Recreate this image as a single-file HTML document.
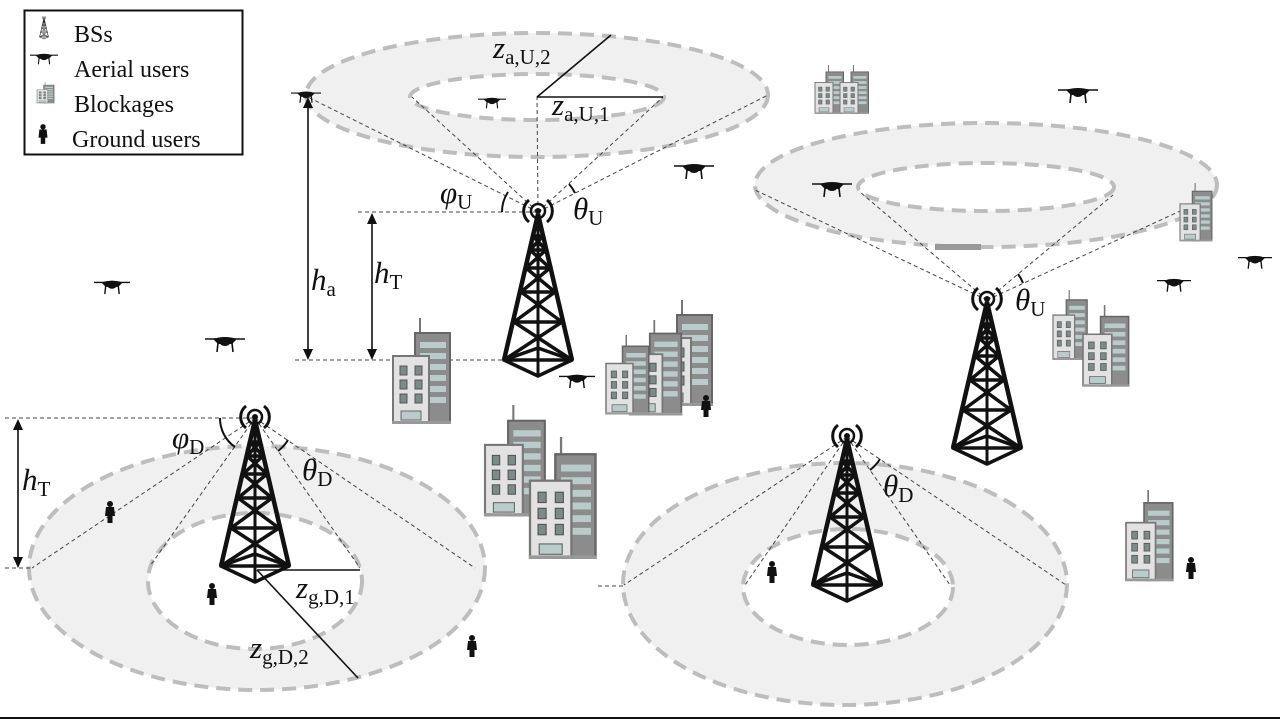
<!DOCTYPE html>
<html><head><meta charset="utf-8"><style>
html,body{margin:0;padding:0;background:#fff;}
svg{display:block;}
.v{font-family:"Liberation Serif",serif;font-style:italic;font-size:31px;fill:#111;}
.s{font-family:"Liberation Serif",serif;font-style:normal;font-size:21px;}
.lg{font-family:"Liberation Serif",serif;font-size:24px;fill:#111;}
</style></head><body>
<svg width="1280" height="720" viewBox="0 0 1280 720" xmlns="http://www.w3.org/2000/svg">
<defs>
<g id="tower" fill="none" stroke="#111" stroke-width="4.5" stroke-linejoin="round">
  <line x1="0" y1="0" x2="-34" y2="146"/>
  <line x1="0" y1="0" x2="34" y2="146"/>
  <line x1="0" y1="0" x2="0" y2="162" stroke-width="3"/>
  <polyline points="-5,22 5,22 -8,36 8,36 -5,22" stroke-width="3.5"/>
  <polyline points="-8,36 12,54 -12,54 8,36" stroke-width="3.5"/>
  <polyline points="-12,54 17,78 -17,78 12,54" stroke-width="3.5"/>
  <polyline points="-17,78 24,108 -24,108 17,78" stroke-width="3.5"/>
  <polyline points="-24,108 34,146 -34,146 24,108" stroke-width="3.5"/>
  <polygon points="-34,146 0,162 34,146 0,134" stroke-width="3.5"/>
  <circle cx="0" cy="-3" r="3" fill="#111" stroke="none"/>
  <circle cx="0" cy="-3" r="7" stroke-width="2.5"/>
  <path d="M -9 -14 A 14 14 0 0 0 -9 8" stroke-width="3"/>
  <path d="M 9 -14 A 14 14 0 0 1 9 8" stroke-width="3"/>
</g>
<g id="drone" fill="#111" stroke="#111">
  <line x1="-20" y1="-4" x2="20" y2="-4" stroke-width="1.5"/>
  <path d="M-12 -4 Q0 -8 12 -4 L7 1 L-7 1 Z" stroke="none"/>
  <ellipse cx="0" cy="0" rx="5" ry="3" stroke="none"/>
  <line x1="-7" y1="0" x2="-8" y2="9" stroke-width="1.6"/>
  <line x1="7" y1="0" x2="8" y2="9" stroke-width="1.6"/>
</g>
<g id="person" fill="#111">
  <circle cx="0" cy="-8" r="3"/>
  <path d="M-4 -5 L4 -5 L5 4 L2.5 4 L2.5 11 L-2.5 11 L-2.5 4 L-5 4 Z"/>
</g>
<g id="bld">
  <line x1="27" y1="0" x2="27" y2="16" stroke="#777" stroke-width="2"/>
  <rect x="22" y="15" width="35" height="90" fill="#8c8c8c" stroke="#666" stroke-width="2"/>
  <rect x="27" y="24" width="26" height="6" fill="#b9cccb"/>
  <rect x="27" y="35" width="26" height="6" fill="#b9cccb"/>
  <rect x="27" y="46" width="26" height="6" fill="#b9cccb"/>
  <rect x="27" y="57" width="26" height="6" fill="#b9cccb"/>
  <rect x="27" y="68" width="26" height="6" fill="#b9cccb"/>
  <rect x="27" y="79" width="26" height="6" fill="#b9cccb"/>
  <rect x="0" y="38" width="36" height="67" fill="#e2e2e2" stroke="#777" stroke-width="2"/>
  <g fill="#7d8a8a" stroke="#555" stroke-width="1">
    <rect x="7" y="48" width="7" height="9"/><rect x="22" y="48" width="7" height="9"/>
    <rect x="7" y="62" width="7" height="9"/><rect x="22" y="62" width="7" height="9"/>
    <rect x="7" y="76" width="7" height="9"/><rect x="22" y="76" width="7" height="9"/>
  </g>
  <rect x="8" y="93" width="20" height="9" fill="#b9cccb" stroke="#666" stroke-width="1"/>
  <rect x="-1" y="103" width="59" height="3" fill="#999"/>
</g>
</defs>

<ellipse cx="537" cy="95" rx="231" ry="62" fill="#f0f0f0" stroke="#bdbdbd" stroke-width="4" stroke-dasharray="14 8"/>
<ellipse cx="537" cy="97" rx="127" ry="23" fill="#fff" stroke="#bdbdbd" stroke-width="4" stroke-dasharray="14 8"/>
<ellipse cx="986" cy="185" rx="231" ry="62" fill="#f0f0f0" stroke="#bdbdbd" stroke-width="4" stroke-dasharray="14 8"/>
<ellipse cx="986" cy="187" rx="128" ry="24" fill="#fff" stroke="#bdbdbd" stroke-width="4" stroke-dasharray="14 8"/>
<ellipse cx="257" cy="568" rx="228" ry="122" fill="#f0f0f0" stroke="#bdbdbd" stroke-width="4" stroke-dasharray="14 8"/>
<ellipse cx="255" cy="581" rx="107" ry="68" fill="#fff" stroke="#bdbdbd" stroke-width="4" stroke-dasharray="14 8"/>
<ellipse cx="845" cy="584" rx="222" ry="121" fill="#f0f0f0" stroke="#bdbdbd" stroke-width="4" stroke-dasharray="14 8"/>
<ellipse cx="848" cy="587" rx="105" ry="58" fill="#fff" stroke="#bdbdbd" stroke-width="4" stroke-dasharray="14 8"/>

<g stroke="#444" stroke-width="1" stroke-dasharray="4 3" fill="none">
  <line x1="538" y1="212" x2="308" y2="97"/>
  <line x1="538" y1="212" x2="412" y2="97"/>
  <line x1="538" y1="212" x2="537" y2="97"/>
  <line x1="538" y1="212" x2="663" y2="97"/>
  <line x1="538" y1="212" x2="768" y2="95"/>
  <line x1="358" y1="212" x2="538" y2="212"/>
  <line x1="295" y1="360" x2="505" y2="360"/>
  <line x1="987" y1="300" x2="755" y2="190"/>
  <line x1="987" y1="300" x2="860" y2="192"/>
  <line x1="987" y1="300" x2="1113" y2="195"/>
  <line x1="987" y1="300" x2="1215" y2="195"/>
  <line x1="255" y1="418" x2="32" y2="568"/>
  <line x1="255" y1="418" x2="150" y2="566"/>
  <line x1="255" y1="418" x2="360" y2="568"/>
  <line x1="255" y1="418" x2="475" y2="568"/>
  <line x1="5" y1="418" x2="255" y2="418"/>
  <line x1="5" y1="568" x2="32" y2="568"/>
  <line x1="847" y1="437" x2="624" y2="585"/>
  <line x1="847" y1="437" x2="745" y2="585"/>
  <line x1="847" y1="437" x2="950" y2="585"/>
  <line x1="847" y1="437" x2="1066" y2="585"/>
  <line x1="598" y1="586" x2="624" y2="586"/>
</g>

<g stroke="#111" stroke-width="1.6">
  <line x1="537" y1="97" x2="611" y2="35"/>
  <line x1="537" y1="97" x2="663" y2="97"/>
  <line x1="257" y1="570" x2="360" y2="570"/>
  <line x1="257" y1="570" x2="358" y2="678"/>
  <line x1="308" y1="104" x2="308" y2="354"/>
  <line x1="372" y1="220" x2="372" y2="354"/>
  <line x1="18" y1="426" x2="18" y2="562"/>
</g>
<g fill="#111">
  <polygon points="308,97 303,108 313,108"/><polygon points="308,360 303,349 313,349"/>
  <polygon points="372,213 367,224 377,224"/><polygon points="372,360 367,349 377,349"/>
  <polygon points="18,419 13,430 23,430"/><polygon points="18,568 13,557 23,557"/>
</g>
<g stroke="#111" stroke-width="2" fill="none">
  <path d="M 502 212 A 36 36 0 0 1 508 192"/>
  <path d="M 569 184 A 42 42 0 0 1 575 193"/>
  <path d="M 220 418 A 35 35 0 0 0 235 447"/>
  <path d="M 288 440 A 40 40 0 0 1 278 451"/>
  <path d="M 880 459 A 40 40 0 0 1 870 470"/>
  <path d="M 1018 274 A 40 40 0 0 1 1023 283"/>
</g>

<use href="#bld" x="393" y="318"/>
<use href="#bld" transform="translate(655,300)"/>
<use href="#bld" transform="translate(630,320) scale(0.9)"/>
<use href="#bld" transform="translate(606,335) scale(0.75)"/>
<use href="#bld" transform="translate(485,405) scale(1.05)"/>
<use href="#bld" transform="translate(530,437) scale(1.15)"/>
<use href="#bld" transform="translate(815,65) scale(0.5,0.46)"/>
<use href="#bld" transform="translate(840,65) scale(0.5,0.46)"/>
<use href="#bld" transform="translate(1180,183) scale(0.56,0.55)"/>
<use href="#bld" transform="translate(1053,290) scale(0.6,0.66)"/>
<use href="#bld" transform="translate(1083,305) scale(0.8,0.77)"/>
<use href="#bld" transform="translate(1126,490) scale(0.82,0.86)"/>
<rect x="935" y="244" width="46" height="6" fill="#999"/>

<use href="#tower" x="538" y="214"/>
<use href="#tower" x="255" y="420"/>
<use href="#tower" x="847" y="439"/>
<use href="#tower" x="987" y="302"/>

<use href="#drone" transform="translate(306,96) scale(0.75)"/>
<use href="#drone" transform="translate(492,102) scale(0.7)"/>
<use href="#drone" transform="translate(694,170)"/>
<use href="#drone" transform="translate(1078,94)"/>
<use href="#drone" transform="translate(832,188)"/>
<use href="#drone" transform="translate(1174,284) scale(0.85)"/>
<use href="#drone" transform="translate(1255,261) scale(0.85)"/>
<use href="#drone" transform="translate(112,286) scale(0.9)"/>
<use href="#drone" transform="translate(225,343)"/>
<use href="#drone" transform="translate(577,380) scale(0.9)"/>

<use href="#person" x="110" y="512"/>
<use href="#person" x="212" y="594"/>
<use href="#person" x="472" y="646"/>
<use href="#person" x="706" y="406"/>
<use href="#person" x="772" y="572"/>
<use href="#person" x="1191" y="568"/>

<text class="v" x="493" y="58">z<tspan class="s" dy="6">a,U,2</tspan></text>
<text class="v" x="552" y="115">z<tspan class="s" dy="6">a,U,1</tspan></text>
<text class="v" x="440" y="203">φ<tspan class="s" dy="6">U</tspan></text>
<text class="v" x="573" y="219">θ<tspan class="s" dy="6">U</tspan></text>
<text class="v" x="311" y="290">h<tspan class="s" dy="6">a</tspan></text>
<text class="v" x="374" y="283">h<tspan class="s" dy="6">T</tspan></text>
<text class="v" x="1015" y="310">θ<tspan class="s" dy="6">U</tspan></text>
<text class="v" x="172" y="448">φ<tspan class="s" dy="6">D</tspan></text>
<text class="v" x="302" y="480">θ<tspan class="s" dy="6">D</tspan></text>
<text class="v" x="22" y="490">h<tspan class="s" dy="6">T</tspan></text>
<text class="v" x="883" y="496">θ<tspan class="s" dy="6">D</tspan></text>
<text class="v" x="296" y="598">z<tspan class="s" dy="6">g,D,1</tspan></text>
<text class="v" x="250" y="658">z<tspan class="s" dy="6">g,D,2</tspan></text>

<rect x="24.5" y="10.5" width="218" height="144" fill="#fff" stroke="#111" stroke-width="2"/>
<g transform="translate(44,18) scale(0.13)">
  <use href="#tower" x="0" y="0"/>
</g>
<use href="#drone" transform="translate(44,58) scale(0.7)"/>
<use href="#bld" transform="translate(37,82) scale(0.3,0.2)"/>
<use href="#person" transform="translate(43,134) scale(0.9)"/>
<text class="lg" x="74" y="42">BSs</text>
<text class="lg" x="74" y="77">Aerial users</text>
<text class="lg" x="74" y="112">Blockages</text>
<text class="lg" x="72" y="147">Ground users</text>

<line x1="0" y1="718" x2="1280" y2="718" stroke="#111" stroke-width="2"/>
</svg>
</body></html>
